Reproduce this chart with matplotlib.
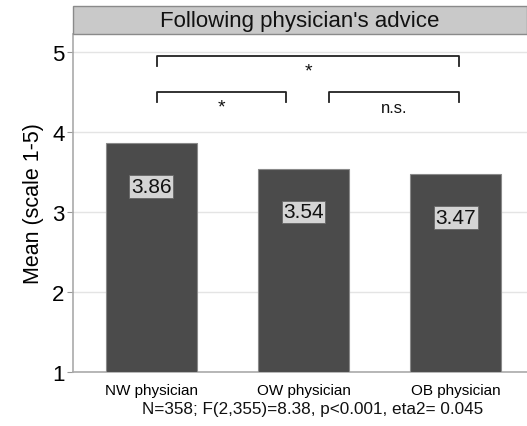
import matplotlib
matplotlib.use("Agg")
import matplotlib.pyplot as plt
from matplotlib.patches import Rectangle

plt.rcParams['font.family'] = ['Liberation Sans', 'DejaVu Sans']

categories = ["NW physician", "OW physician", "OB physician"]
means = [3.86, 3.54, 3.47]
value_labels = ["3.86", "3.54", "3.47"]
title = "Following physician's advice"
ylabel = "Mean (scale 1-5)"
note = "N=358; F(2,355)=8.38, p<0.001, eta2= 0.045"
yticks = [1, 2, 3, 4, 5]
# comparisons: (left index, right index, label, level)
comparisons = [(0, 2, "*", 2), (0, 1, "*", 1), (1, 2, "n.s.", 1)]

W, H = 527, 427
fig = plt.figure(figsize=(W / 100, H / 100), dpi=100)
ax_l, ax_r = 73 / W, 1.0
ax_b, ax_t = 1 - 373 / H, 1 - 35 / H
ax = fig.add_axes([ax_l, ax_b, ax_r - ax_l, ax_t - ax_b])

x = list(range(len(categories)))
ax.bar(x, [m - 1 for m in means], bottom=1, width=0.6, color="#4b4b4b",
       edgecolor="#8a8a8a", linewidth=0.8, zorder=3)

for xi, m, lab in zip(x, means, value_labels):
    ax.text(xi, m - 0.54, lab, ha="center", va="center", fontsize=15,
            color="#111111", zorder=4,
            bbox=dict(boxstyle="square,pad=0.08", facecolor="#d4d4d4",
                      edgecolor="#666666", linewidth=0.6))

ax.set_ylim(1, 5.225)
ax.set_xlim(-0.516, 2.47)
ax.set_yticks(yticks)
ax.set_yticklabels([str(t) for t in yticks], fontsize=16)
ax.set_xticks(x)
ax.set_xticklabels(categories, fontsize=11)
ax.tick_params(axis="x", length=0, pad=8)
ax.tick_params(axis="y", length=4, color="#999999", pad=2)
ax.set_ylabel(ylabel, fontsize=15.5, labelpad=6)
ax.yaxis.grid(True, color="#e4e4e4", linewidth=1.0, zorder=0)
ax.set_axisbelow(True)
for s in ["top", "right"]:
    ax.spines[s].set_visible(False)
for s in ["left", "bottom"]:
    ax.spines[s].set_color("#aaaaaa")
    ax.spines[s].set_linewidth(1.2)

# significance brackets
levels = {2: (4.95, 4.82, 4.76), 1: (4.50, 4.375, 4.31)}
off = {0: 0.036, 1: 0.885, 2: 2.026}
off_l = {0: 0.036, 1: 1.17}
for i, j, lab, lv in comparisons:
    yh, yl, yt = levels[lv]
    xa = off_l[i]
    xb = off[j]
    ax.plot([xa, xa, xb, xb], [yl, yh, yh, yl], color="#222222", lw=1.3,
            zorder=5, clip_on=False)
    ax.text((xa + xb) / 2, yt, lab, ha="center", va="center",
            fontsize=12 if lab != "*" else 14, color="#111111")

# title strip
fig.patches.append(Rectangle((ax_l, ax_t), 1 - ax_l, 28 / H,
                             transform=fig.transFigure, facecolor="#c9c9c9",
                             edgecolor="#8a8a8a", linewidth=1.0))
fig.text((ax_l + 1) / 2, ax_t + 14 / H, title, ha="center", va="center",
         fontsize=16, color="#111111")

fig.text((142 + 483) / 2 / W, 1 - 410 / H, note, ha="center", va="center",
         fontsize=12.3, color="#111111")

fig.savefig("out.png", dpi=100)
